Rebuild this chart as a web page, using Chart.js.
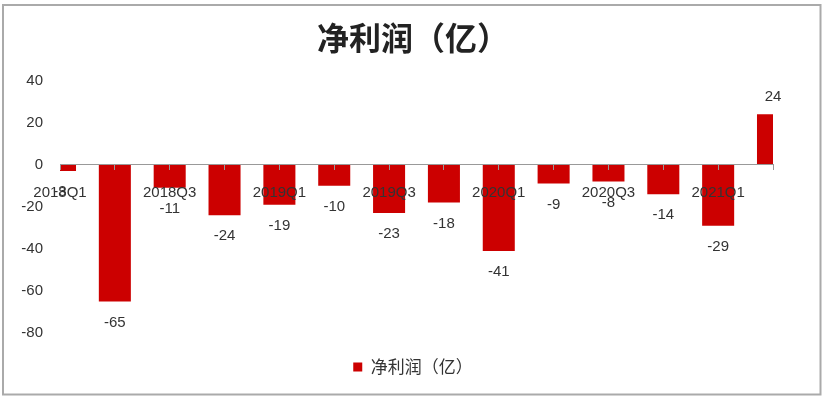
<!DOCTYPE html>
<html>
<head>
<meta charset="utf-8">
<script src="https://cdn.jsdelivr.net/npm/chart.js@4/dist/chart.umd.min.js"></script>
<style>
  html, body { margin: 0; padding: 0; background: #fff; }
  #wrap { width: 826px; height: 399px; position: relative; }
</style>
</head>
<body>
<div id="wrap"><canvas id="c" width="826" height="399"></canvas></div>
<script>
const categories = ['2018Q1','2018Q2','2018Q3','2018Q4','2019Q1','2019Q2','2019Q3','2019Q4','2020Q1','2020Q2','2020Q3','2020Q4','2021Q1','2021Q2'];
const netProfit = [-3, -65, -11, -24, -19, -10, -23, -18, -41, -9, -8, -14, -29, 24];
const seriesName = '净利润（亿）';
const titleText = '净利润（亿）';
const yTicks = { min: -80, max: 40, step: 20 };

const BAR = 'rgb(204,0,0)';
const TXT = '#333';
const LATIN = '"Liberation Sans", Arial, sans-serif';
const CJK = '"Noto Sans CJK SC", "Noto Sans", sans-serif';

const frame = {
  id: 'frame',
  beforeDraw(chart) {
    const ctx = chart.ctx;
    ctx.save();
    ctx.fillStyle = '#fff';
    ctx.fillRect(0, 0, chart.width, chart.height);
    ctx.strokeStyle = '#aaaaaa';
    ctx.lineWidth = 2;
    ctx.strokeRect(3, 5, 817.5, 389.5);
    ctx.restore();
  }
};

const valueLabels = {
  id: 'valueLabels',
  afterDatasetsDraw(chart) {
    const ctx = chart.ctx;
    const meta = chart.getDatasetMeta(0);
    const data = chart.data.datasets[0].data;
    ctx.save();
    ctx.font = '15px ' + LATIN;
    ctx.fillStyle = TXT;
    ctx.textAlign = 'center';
    ctx.textBaseline = 'middle';
    meta.data.forEach((el, i) => {
      const v = data[i];
      ctx.fillText(String(v), el.x, v < 0 ? el.y + 21 : el.y - 17);
    });
    ctx.restore();
  }
};

new Chart(document.getElementById('c'), {
  type: 'bar',
  data: {
    labels: categories,
    datasets: [{
      label: seriesName,
      data: netProfit,
      backgroundColor: BAR,
      borderWidth: 0,
      categoryPercentage: 1,
      barPercentage: 0.584,
      clip: 0
    }]
  },
  options: {
    responsive: false,
    animation: false,
    devicePixelRatio: 1,
    layout: { padding: { left: 0, right: 0, top: 0, bottom: 13.5 } },
    scales: {
      x: {
        type: 'category',
        position: { y: 0 },
        offset: false,
        grid: { offset: false, drawOnChartArea: false, drawTicks: true, tickLength: 5, color: '#999', z: 1 },
        border: { display: true, color: '#999', width: 1, z: 1 },
        ticks: {
          z: 1,
          autoSkip: false,
          maxRotation: 0,
          minRotation: 0,
          padding: 14,
          color: TXT,
          font: { family: LATIN, size: 15 },
          callback: function(val, idx) { return idx % 2 === 0 ? this.getLabelForValue(val) : ''; }
        }
      },
      y: {
        min: yTicks.min,
        max: yTicks.max,
        grid: { display: false, drawTicks: false },
        border: { display: false },
        ticks: { stepSize: yTicks.step, padding: 17, color: TXT, font: { family: LATIN, size: 15 } },
        afterFit(s) { s.width = 60; }
      },
      yRightSpace: {
        type: 'linear',
        position: 'right',
        display: true,
        grid: { display: false, drawTicks: false },
        border: { display: false },
        ticks: { display: false },
        afterFit(s) { s.width = 53; }
      }
    },
    plugins: {
      title: {
        display: true,
        text: titleText,
        color: '#222',
        font: { family: CJK, size: 32, weight: 'bold', lineHeight: 1 },
        padding: { top: 21.5, bottom: 27 }
      },
      legend: {
        display: true,
        position: 'bottom',
        title: { display: true, text: ' ', font: { size: 1, lineHeight: 1 }, padding: { top: 14.5, bottom: 0 } },
        labels: { boxWidth: 9, boxHeight: 9, padding: 10, color: TXT, font: { family: CJK, size: 17 } }
      },
      tooltip: { enabled: false }
    }
  },
  plugins: [frame, valueLabels]
});
</script>
</body>
</html>
